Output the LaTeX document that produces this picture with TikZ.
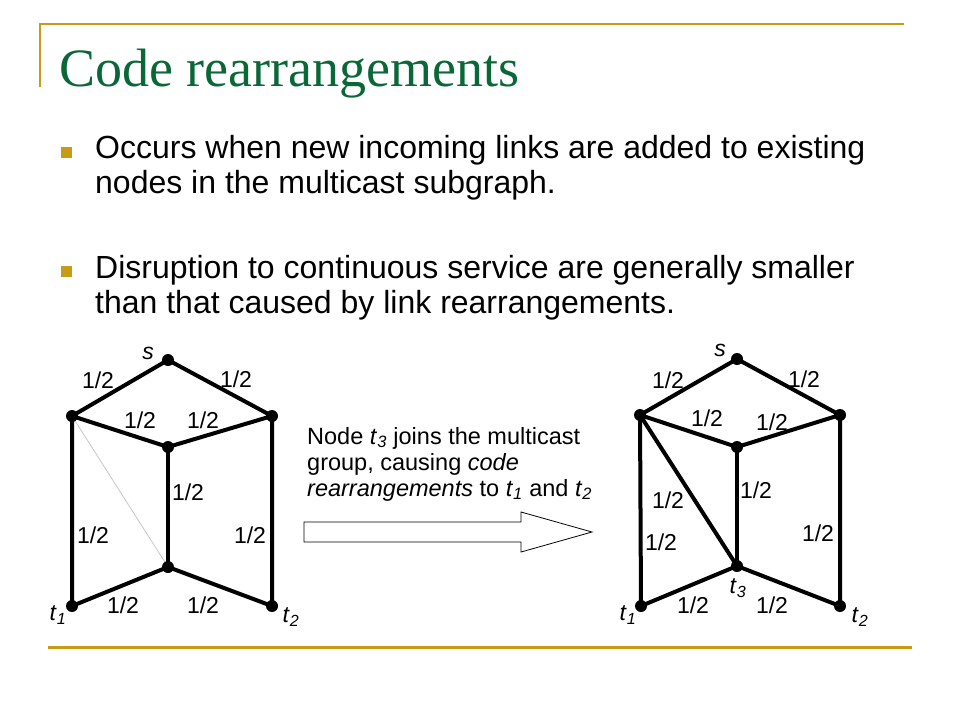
\documentclass[tikz,border=0pt]{standalone}
\usepackage{fontspec}
\setmainfont{Liberation Sans}
\newfontfamily\titlefont{Liberation Serif}
\definecolor{gold}{RGB}{200,155,20}
\definecolor{titlegreen}{RGB}{10,104,56}
\newcommand{\tsub}[2]{\textit{#1}\textsubscript{\textit{#2}}}
\begin{document}
\begin{tikzpicture}[x=1pt,y=-1pt,
  vtx/.style={circle,fill=black,inner sep=0pt,minimum size=12pt},
  edge/.style={line width=4pt},
  lbl/.style={font=\fontsize{23}{26}\selectfont,inner sep=0pt},
  bul/.style={font=\fontsize{32}{35}\selectfont,anchor=base west,inner sep=0pt},
  captxt/.style={font=\fontsize{23.5}{26}\selectfont,anchor=base west,inner sep=0pt},
  sq/.style={fill=gold,inner sep=0pt,minimum size=11pt}]
\useasboundingbox (0,0) rectangle (960,720);
\fill[white] (0,0) rectangle (960,720);
% frame lines
\draw[gold,line width=2pt] (40,87) -- (40,24) -- (904,24);
\draw[gold,line width=3pt] (48,647) -- (912,647);
% title
\node[anchor=base west,inner sep=0pt,text=titlegreen,font=\titlefont\fontsize{54}{60}\selectfont] (title) at (59,86) {Code rearrangements};
% bullets
\node[sq] (b1) at (66,152) {};
\node[sq] (b2) at (66,271) {};
\node[bul] (l1) at (95,158) {Occurs when new incoming links are added to existing};
\node[bul] (l2) at (95,193) {nodes in the multicast subgraph.};
\node[bul] (l3) at (95,278) {Disruption to continuous service are generally smaller};
\node[bul] (l4) at (95,313) {than that caused by link rearrangements.};
% left graph
\node[vtx] (s) at (168,360) {};
\node[vtx] (a) at (72,416) {};
\node[vtx] (b) at (272,416) {};
\node[vtx] (c) at (168,447) {};
\node[vtx] (d) at (168,567) {};
\node[vtx] (t1) at (72,606) {};
\node[vtx] (t2) at (272,606) {};
\draw[gray!45,line width=0.8pt] (a) -- (d);
\draw[edge] (s.center) -- (a.center) -- (c.center) -- (b.center) -- (s.center);
\draw[edge] (a.center) -- (t1.center) -- (d.center) -- (t2.center) -- (b.center);
\draw[edge] (c.center) -- (d.center);
\node[lbl] (ls) at (148,353) {\textit{s}};
\node[lbl] (e1) at (98,380) {1/2};
\node[lbl] (e2) at (236,379) {1/2};
\node[lbl] (e3) at (140,420) {1/2};
\node[lbl] (e4) at (203,420) {1/2};
\node[lbl] (e5) at (188,492) {1/2};
\node[lbl] (e6) at (93,535) {1/2};
\node[lbl] (e7) at (250,535) {1/2};
\node[lbl] (e8) at (123,605) {1/2};
\node[lbl] (e9) at (203,605) {1/2};
\node[lbl] (lt1) at (58,615) {\tsub{t}{1}};
\node[lbl] (lt2) at (291,617) {\tsub{t}{2}};
% caption and arrow
\node[captxt] (c1) at (307,444) {Node \tsub{t}{3} joins the multicast};
\node[captxt] (c2) at (307,470) {group, causing \textit{code}};
\node[captxt] (c3) at (307,496) {\textit{rearrangements} to \tsub{t}{1} and \tsub{t}{2}};
\draw[fill=white,line width=0.8pt] (304,522) -- (521,522) -- (521,512) -- (592,532) -- (521,552) -- (521,542) -- (304,542) -- cycle;
% right graph
\node[vtx] (rs) at (737,359) {};
\node[vtx] (ra) at (640,415) {};
\node[vtx] (rb) at (840,415) {};
\node[vtx] (rc) at (737,447) {};
\node[vtx] (rd) at (737,566) {};
\node[vtx] (rt1) at (641,606) {};
\node[vtx] (rt2) at (840,606) {};
\draw[edge] (rs.center) -- (ra.center) -- (rc.center) -- (rb.center) -- (rs.center);
\draw[edge] (ra.center) -- (rt1.center) -- (rd.center) -- (rt2.center) -- (rb.center);
\draw[edge] (rc.center) -- (rd.center);
\draw[edge] (ra.center) -- (rd.center);
\node[lbl] (rls) at (720,350) {\textit{s}};
\node[lbl] (r1) at (668,380) {1/2};
\node[lbl] (r2) at (804,379) {1/2};
\node[lbl] (r3) at (707,418) {1/2};
\node[lbl] (r4) at (772,422) {1/2};
\node[lbl] (r5) at (756,490) {1/2};
\node[lbl] (r6) at (668,500) {1/2};
\node[lbl] (r7) at (661,542) {1/2};
\node[lbl] (r8) at (818,533) {1/2};
\node[lbl] (r9) at (693,605) {1/2};
\node[lbl] (r10) at (772,605) {1/2};
\node[lbl] (rlt3) at (738,588) {\tsub{t}{3}};
\node[lbl] (rlt1) at (628,615) {\tsub{t}{1}};
\node[lbl] (rlt2) at (860,617) {\tsub{t}{2}};
\end{tikzpicture}
\end{document}
